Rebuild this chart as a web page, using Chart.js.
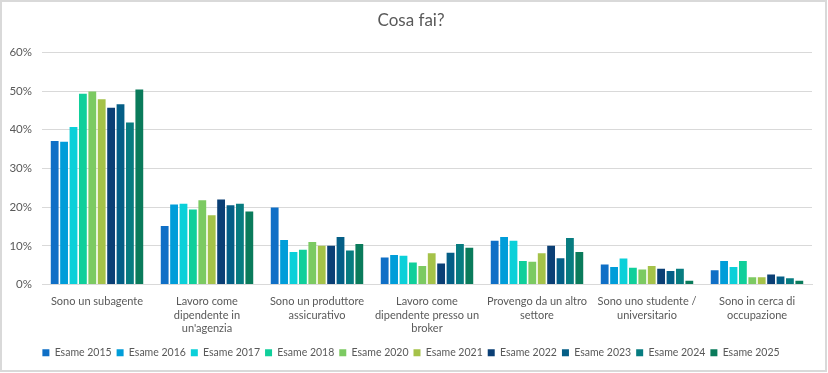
<!DOCTYPE html>
<html>
<head>
<meta charset="utf-8">
<script src="https://cdn.jsdelivr.net/npm/chart.js@4/dist/chart.umd.min.js"></script>
<style>
html,body{margin:0;padding:0;background:#fff;}
#wrap{position:relative;width:828px;height:373px;}
</style>
</head>
<body>
<div id="wrap"><canvas id="c" width="828" height="373"></canvas></div>
<script>
const categories = [
  "Sono un subagente",
  ["Lavoro come","dipendente in","un'agenzia"],
  ["Sono un produttore","assicurativo"],
  ["Lavoro come","dipendente presso un","broker"],
  ["Provengo da un altro","settore"],
  ["Sono uno studente /","universitario"],
  ["Sono in cerca di","occupazione"]
];
const seriesNames = ["Esame 2015","Esame 2016","Esame 2017","Esame 2018","Esame 2020","Esame 2021","Esame 2022","Esame 2023","Esame 2024","Esame 2025"];
const esame2015 = [37.1, 15.1, 19.9, 7.0, 11.3, 5.2, 3.7];
const esame2016 = [36.9, 20.7, 11.5, 7.6, 12.3, 4.5, 6.1];
const esame2017 = [40.7, 20.9, 8.4, 7.4, 11.3, 6.7, 4.5];
const esame2018 = [49.3, 19.4, 9.0, 5.7, 6.1, 4.3, 6.1];
const esame2020 = [49.9, 21.8, 11.0, 4.8, 5.9, 3.9, 1.9];
const esame2021 = [47.9, 17.9, 10.0, 8.1, 8.1, 4.8, 1.9];
const esame2022 = [45.7, 22.0, 10.0, 5.4, 10.0, 4.1, 2.6];
const esame2023 = [46.6, 20.5, 12.3, 8.2, 6.8, 3.5, 2.1];
const esame2024 = [41.9, 20.9, 8.8, 10.5, 12.0, 4.1, 1.6];
const esame2025 = [50.4, 18.9, 10.5, 9.5, 8.4, 1.0, 1.0];
const yTicks = [0, 10, 20, 30, 40, 50, 60];

const seriesValues = [esame2015, esame2016, esame2017, esame2018, esame2020, esame2021, esame2022, esame2023, esame2024, esame2025];
const colors = ["#0F6FC6","#009DD9","#0BD0D9","#10CF9B","#7CCA62","#A5C249","#0B3F75","#045E86","#077C80","#0A7B5B"];

const FONT = "Lato, 'Open Sans', sans-serif";
const TXT = "#595959";

const framePlugin = {
  id: 'frame',
  beforeDraw(chart){
    const ctx = chart.ctx;
    ctx.save();
    ctx.fillStyle = '#fff';
    ctx.fillRect(0,0,chart.width,chart.height);
    ctx.restore();
  },
  afterDraw(chart){
    const ctx = chart.ctx;
    ctx.save();
    ctx.strokeStyle = '#d9d9d9';
    ctx.lineWidth = 2;
    ctx.strokeRect(1,1,825,370);
    ctx.restore();
  }
};

new Chart(document.getElementById('c'), {
  type: 'bar',
  data: {
    labels: categories,
    datasets: seriesNames.map((n,i)=>({
      label: n,
      data: seriesValues[i],
      backgroundColor: colors[i],
      borderWidth: 0,
      categoryPercentage: 0.855,
      barPercentage: 0.83
    }))
  },
  options: {
    responsive: false,
    animation: false,
    devicePixelRatio: 1,
    layout: { padding: { left: 10, right: 16, top: 0, bottom: 5 } },
    plugins: {
      title: {
        display: true, text: 'Cosa fai?', color: TXT,
        font: { family: FONT, size: 17, weight: 'normal' },
        padding: { top: 10, bottom: 22 }
      },
      legend: {
        position: 'bottom',
        labels: {
          color: TXT, boxWidth: 7, boxHeight: 7, padding: 5,
          font: { family: FONT, size: 10.5 }
        }
      },
      tooltip: { enabled: false }
    },
    scales: {
      x: {
        grid: { display: false },
        border: { display: true, color: '#d9d9d9' },
        ticks: {
          color: TXT, maxRotation: 0, minRotation: 0, autoSkip: false,
          font: { family: FONT, size: 11, lineHeight: 1.25 }, padding: 2
        },
        afterFit(s){ s.height = 58; }
      },
      y: {
        min: 0, max: 60,
        afterBuildTicks(s){ s.ticks = yTicks.map(v=>({value:v})); },
        grid: { color: '#d9d9d9', drawTicks: false },
        border: { display: false },
        ticks: {
          color: TXT, padding: 10,
          font: { family: FONT, size: 11.5 },
          callback: v => v + '%'
        },
        afterFit(s){ s.width = 32; }
      }
    }
  },
  plugins: [framePlugin]
});
</script>
</body>
</html>
